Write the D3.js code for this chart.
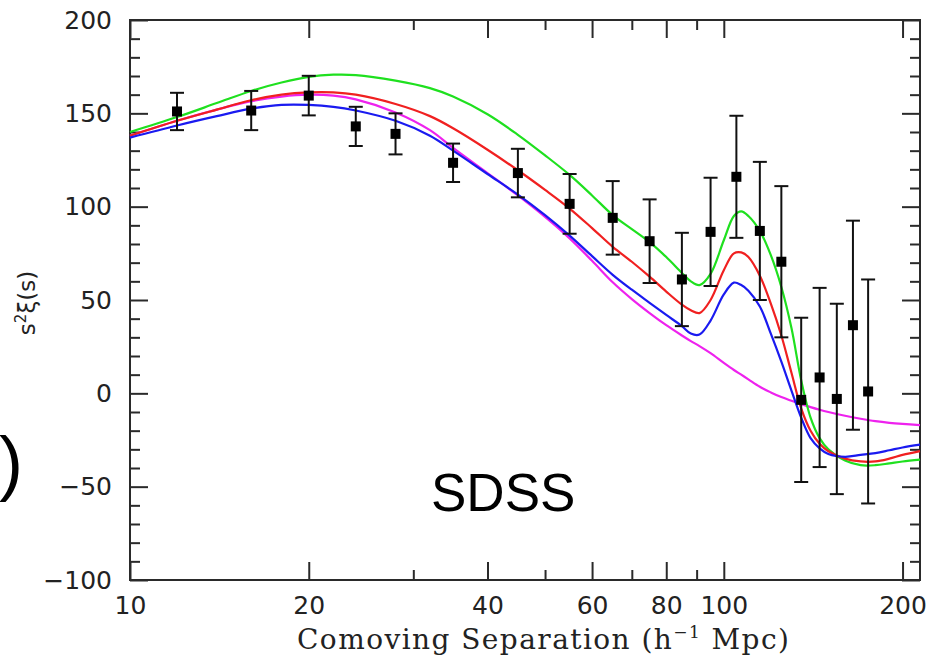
<!DOCTYPE html>
<meta charset="utf-8">
<script src="https://d3js.org/d3.v7.min.js"></script>
<style>
  body { margin: 0; background: #fff; }
  svg { display: block; }
</style>
<div id="chart"></div>
<script>

// separation grid for the model curves (h^-1 Mpc)
var sGrid = [10, 12, 14, 16, 18, 20, 22, 24, 28, 32, 35, 40, 45, 50, 55, 60, 65, 70, 75, 80,
             85, 88, 91, 95, 100, 104, 107, 110, 115, 120, 125, 130, 135, 140, 145, 150,
             160, 170, 180, 190, 200, 214];

var greenModel = [140, 148, 155.5, 162, 166.5, 169.5, 170.7, 170.5, 167.5, 163.5, 159, 149.5, 138.5, 127.5, 117, 106, 95.5, 88, 81, 73,
                  64.5, 60, 58, 64, 82, 95, 97.5, 95, 87, 74, 57, 35, 7, -13, -24, -30,
                  -36, -38.5, -38.5, -37.5, -36.5, -35.5];
var redModel = [138, 146, 152, 157, 160, 161.2, 161.2, 160, 155, 148.5, 142, 130.5, 119.5, 109, 99, 88.5, 78.5, 70.5, 62.5, 54.5,
                47.5, 44.5, 43, 50, 66, 75, 75.5, 73, 63, 48, 31, 11, -8, -20, -27, -31,
                -35, -36.5, -36.5, -35, -33, -31];
var blueModel = [137, 143.5, 148.5, 152.5, 154.5, 154.5, 153.5, 151.5, 146, 138, 130, 117.5, 106.5, 95.5, 84.5, 73.5, 63.5, 55.5, 48.5, 42,
                 36, 32, 31.5, 39, 53, 59.3, 58, 55, 46.5, 32, 17, 1.5, -13, -24, -29.5, -32.5,
                 -34, -33, -32, -30.5, -29, -27.5];
var magentaModel = [138, 146, 152, 156.5, 159, 160, 159.5, 157.5, 150.5, 141, 131.5, 118, 106, 94.5, 83, 71, 59.5, 50.5, 43, 36.5,
                    31, 28, 25.3, 21.5, 16.3, 12.5, 10, 7.5, 3.5, 0.5, -2, -4, -5.8, -7.4, -8.8, -10,
                    -12, -13.6, -14.9, -15.8, -16.4, -17];

// measured points with errors
var pointS   = [12, 16, 20, 24, 28, 35, 45, 55, 65, 75, 85, 95, 105, 115, 125, 135, 145, 155, 165, 175];
var pointXi  = [151, 151.5, 159.5, 143, 139, 123.5, 118, 101.5, 94, 81.5, 61, 86.5, 116, 87, 70.5, -3.5, 8.5, -3, 36.5, 1];
var pointErr = [10, 10.5, 10.6, 10.5, 11, 10.3, 13, 16, 19.7, 22.4, 25, 29, 32.7, 37, 40.5, 44, 48, 51, 56, 60];

var xLabelTicks = [10, 20, 40, 60, 80, 100, 200];
var xMinorTicks = [30, 50, 70, 90];
var yMajorTicks = [-100, -50, 0, 50, 100, 150, 200];
var yMinorTicks = d3.range(-90, 200, 10).filter(function(v) { return v % 50 != 0; });

var margin = {top: 20, right: 14, bottom: 83, left: 130},
    width = 934 - margin.left - margin.right,
    height = 663 - margin.top - margin.bottom;

var svg = d3.select("#chart")
  .append("svg")
    .attr("width", 934)
    .attr("height", 663);

var g = svg.append("g")
    .attr("transform", "translate(" + margin.left + "," + margin.top + ")");

var x = d3.scaleLog()
    .domain([10, 214])
    .range([0, width]);

var y = d3.scaleLinear()
    .domain([-100, 200])
    .range([height, 0]);

var axisColor = "#2a2a2a";
var tickFont = "'DejaVu Sans', sans-serif";

function styleAxis(sel, showText) {
  sel.select(".domain").remove();
  sel.selectAll(".tick line")
    .attr("stroke", axisColor)
    .attr("stroke-width", 2);
  sel.selectAll(".tick text")
    .style("font-family", tickFont)
    .style("font-size", "25px")
    .attr("fill", "#222");
  if (!showText) sel.selectAll(".tick text").remove();
}

// bottom axis
g.append("g")
  .attr("transform", "translate(0," + height + ")")
  .call(d3.axisBottom(x).tickValues(xLabelTicks).tickSize(-18).tickPadding(16).tickFormat(d3.format("d")))
  .call(styleAxis, true);
g.append("g")
  .attr("transform", "translate(0," + height + ")")
  .call(d3.axisBottom(x).tickValues(xMinorTicks).tickSize(-10).tickFormat(""))
  .call(styleAxis, false);

// top axis
g.append("g")
  .call(d3.axisTop(x).tickValues(xLabelTicks).tickSize(-18).tickFormat(""))
  .call(styleAxis, false);
g.append("g")
  .call(d3.axisTop(x).tickValues(xMinorTicks).tickSize(-10).tickFormat(""))
  .call(styleAxis, false);

// left axis
g.append("g")
  .call(d3.axisLeft(y).tickValues(yMajorTicks).tickSize(-18).tickPadding(18)
        .tickFormat(function(d) { return d < 0 ? "\u2212" + Math.abs(d) : d; }))
  .call(styleAxis, true);
g.append("g")
  .call(d3.axisLeft(y).tickValues(yMinorTicks).tickSize(-10).tickFormat(""))
  .call(styleAxis, false);

// right axis
g.append("g")
  .attr("transform", "translate(" + width + ",0)")
  .call(d3.axisRight(y).tickValues(yMajorTicks).tickSize(-18).tickFormat(""))
  .call(styleAxis, false);
g.append("g")
  .attr("transform", "translate(" + width + ",0)")
  .call(d3.axisRight(y).tickValues(yMinorTicks).tickSize(-10).tickFormat(""))
  .call(styleAxis, false);

// frame
g.append("rect")
  .attr("width", width)
  .attr("height", height)
  .attr("fill", "none")
  .attr("stroke", axisColor)
  .attr("stroke-width", 2);

// model curves
var models = [
  {values: magentaModel, color: "#ee22ee"},
  {values: greenModel, color: "#1fe01f"},
  {values: redModel, color: "#f02020"},
  {values: blueModel, color: "#1a1af0"}
];

var line = d3.line()
  .x(function(d) { return x(d[0]); })
  .y(function(d) { return y(d[1]); })
  .curve(d3.curveCatmullRom.alpha(0.5));

models.forEach(function(m) {
  g.append("path")
    .datum(sGrid.map(function(s, i) { return [s, m.values[i]]; }))
    .attr("fill", "none")
    .attr("stroke", m.color)
    .attr("stroke-width", 2.2)
    .attr("d", line);
});

// data points with error bars
var pts = pointS.map(function(s, i) { return {s: s, v: pointXi[i], e: pointErr[i]}; });

var bars = g.append("g").selectAll("g")
  .data(pts)
  .enter().append("g")
    .attr("stroke", "#111")
    .attr("stroke-width", 2);

bars.append("line")
  .attr("x1", function(d) { return x(d.s); })
  .attr("x2", function(d) { return x(d.s); })
  .attr("y1", function(d) { return y(d.v + d.e); })
  .attr("y2", function(d) { return y(d.v - d.e); });
bars.append("line")
  .attr("x1", function(d) { return x(d.s) - 7; })
  .attr("x2", function(d) { return x(d.s) + 7; })
  .attr("y1", function(d) { return y(d.v + d.e); })
  .attr("y2", function(d) { return y(d.v + d.e); });
bars.append("line")
  .attr("x1", function(d) { return x(d.s) - 7; })
  .attr("x2", function(d) { return x(d.s) + 7; })
  .attr("y1", function(d) { return y(d.v - d.e); })
  .attr("y2", function(d) { return y(d.v - d.e); });

g.append("g").selectAll("rect")
  .data(pts)
  .enter().append("rect")
    .attr("x", function(d) { return x(d.s) - 5; })
    .attr("y", function(d) { return y(d.v) - 5; })
    .attr("width", 10)
    .attr("height", 10)
    .attr("fill", "#000");

// axis titles
svg.append("text")
  .attr("x", 297)
  .attr("y", 649)
  .attr("textLength", 492)
  .attr("lengthAdjust", "spacing")
  .style("font-family", "'DejaVu Serif', serif")
  .style("font-size", "28px")
  .attr("fill", "#222")
  .html("Comoving Separation (h<tspan dy='-11' font-size='17'>\u22121</tspan><tspan dy='11'> Mpc)</tspan>");

svg.append("text")
  .attr("transform", "translate(35,303) rotate(-90)")
  .attr("text-anchor", "middle")
  .style("font-family", "'DejaVu Sans', sans-serif")
  .style("font-size", "23px")
  .attr("fill", "#222")
  .html("s<tspan dy='-9' font-size='15'>2</tspan><tspan dy='9'>\u03BE(s)</tspan>");

// panel label (cut off at the left edge) and survey name
svg.append("text")
  .attr("x", 23)
  .attr("y", 487)
  .attr("text-anchor", "end")
  .style("font-family", "'Liberation Sans', Arial, sans-serif")
  .style("font-size", "72px")
  .attr("fill", "#000")
  .text("(c)");

svg.append("text")
  .attr("x", 431)
  .attr("y", 511)
  .style("font-family", "'Liberation Sans', Arial, sans-serif")
  .style("font-size", "53px")
  .attr("fill", "#000")
  .text("SDSS");

</script>
